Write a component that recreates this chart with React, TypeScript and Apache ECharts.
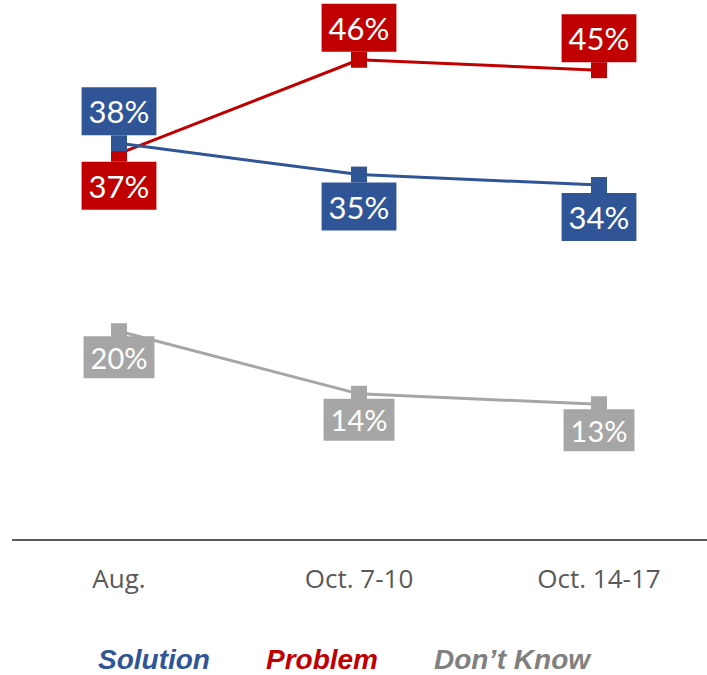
import React, { useEffect, useRef } from "react";
import * as echarts from "echarts";

const categories = ["Aug.", "Oct. 7-10", "Oct. 14-17"];
const solution = [38, 35, 34];
const problem = [37, 46, 45];
const dontKnow = [20, 14, 13];
const solutionPos = ["top", "bottom", "bottom"];
const problemPos = ["bottom", "top", "top"];
const seriesNames = ["Solution", "Problem", "Don\u2019t Know"];

const BLUE = "#2F5597";
const RED = "#C00000";
const GRAY = "#A6A6A6";

export default function App() {
  const ref = useRef<HTMLDivElement>(null);
  useEffect(() => {
    if (!ref.current) return;
    const chart = echarts.init(ref.current, null, { renderer: "svg" });
    const labelBase = {
      show: true,
      color: "#ffffff",
      fontFamily: "Lato",
      fontSize: 31,
      lineHeight: 36,
      padding: [6, 7],
      distance: 0,
      formatter: "{c}%",
    };
    chart.setOption({
      animation: false,
      grid: { left: -1, width: 720, top: 18, height: 522, outerBoundsMode: "none" },
      xAxis: {
        type: "category",
        data: categories,
        boundaryGap: true,
        axisLine: { show: false },
        axisTick: { show: false },
        axisLabel: {
          color: "#595959",
          fontFamily: "Open Sans",
          fontSize: 26,
          margin: 25,
        },
      },
      yAxis: {
        type: "value",
        min: 0,
        max: 50,
        show: false,
      },
      legend: {
        left: 93,
        top: 644,
        icon: "rect",
        itemWidth: 0,
        itemHeight: 0,
        itemGap: 51,
        padding: 0,
        selectedMode: false,
        textStyle: {
          fontFamily: "Liberation Sans",
          fontWeight: "bold",
          fontStyle: "italic",
          fontSize: 28,
          lineHeight: 31,
        },
        data: [
          { name: seriesNames[0], textStyle: { color: BLUE } },
          { name: seriesNames[1], textStyle: { color: RED } },
          { name: seriesNames[2], textStyle: { color: "#808080" } },
        ],
      },
      graphic: [
        {
          type: "line",
          shape: { x1: 12, y1: 540, x2: 707, y2: 540 },
          style: { stroke: "#595959", lineWidth: 2 },
        },
      ],
      series: [
        {
          name: seriesNames[2],
          type: "line",
          data: dontKnow,
          symbol: "rect",
          symbolSize: 16,
          itemStyle: { color: GRAY },
          lineStyle: { color: GRAY, width: 3 },
          label: {
            ...labelBase,
            position: "bottom",
            distance: -3,
            fontSize: 29,
            lineHeight: 34,
            padding: [4, 7],
            backgroundColor: GRAY,
          },
        },
        {
          name: seriesNames[1],
          type: "line",
          data: problem.map((v, i) => ({ value: v, label: { position: problemPos[i] } })),
          symbol: "rect",
          symbolSize: 16,
          itemStyle: { color: RED },
          lineStyle: { color: RED, width: 3 },
          label: { ...labelBase, backgroundColor: RED },
        },
        {
          name: seriesNames[0],
          type: "line",
          data: solution.map((v, i) => ({ value: v, label: { position: solutionPos[i] } })),
          symbol: "rect",
          symbolSize: 16,
          itemStyle: { color: BLUE },
          lineStyle: { color: BLUE, width: 3 },
          label: { ...labelBase, backgroundColor: BLUE },
        },
      ],
    });
    return () => chart.dispose();
  }, []);
  return <div ref={ref} style={{ width: 707, height: 675, position: "absolute", left: 0, top: 0 }} />;
}
